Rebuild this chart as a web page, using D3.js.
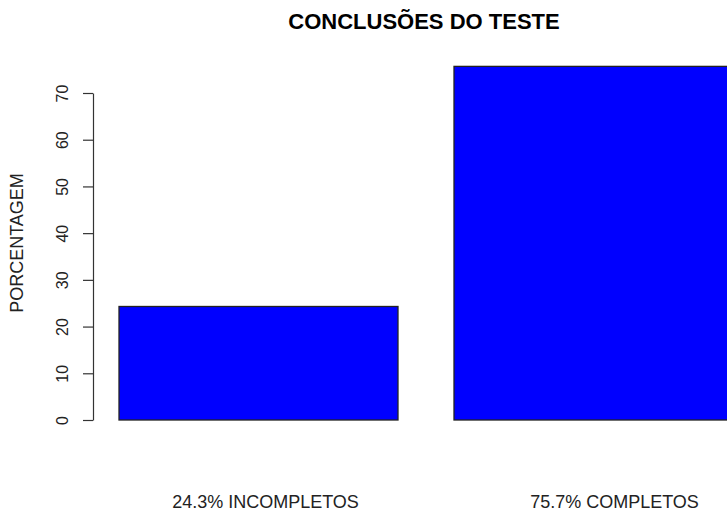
<!DOCTYPE html>
<html>
<head>
<meta charset="utf-8">
<script src="https://cdn.jsdelivr.net/npm/d3@7"></script>
<style>
	body { margin: 0; background: #fff; }
	text { font-family: 'Liberation Sans', Arial, sans-serif; }
</style>
</head>
<body>
<div id="chart"></div>
<script>
// data
const categories = ['INCOMPLETOS', 'COMPLETOS']
const values = [24.3, 75.7]
const barLabels = ['24.3% INCOMPLETOS', '75.7% COMPLETOS']
const yTicks = [0, 10, 20, 30, 40, 50, 60, 70]

var width = 727
var height = 511

var svg = d3.select('#chart')
	.append('svg')
	.attr('width', width)
	.attr('height', height)

// scales
var x = d3.scaleBand()
	.domain(categories)
	.range([119, 733])
	.paddingInner(56 / 335)
	.paddingOuter(0)

var y = d3.scaleLinear()
	.domain([0, 70])
	.range([420, 93])

// bars
svg.selectAll('rect.bar')
	.data(values)
	.enter()
	.append('rect')
	.attr('class', 'bar')
	.attr('x', (d, i) => x(categories[i]))
	.attr('y', d => y(d))
	.attr('width', x.bandwidth())
	.attr('height', d => y(0) - y(d))
	.attr('fill', '#0000ff')
	.attr('stroke', '#222')
	.attr('stroke-width', 1.3)

// y axis
var yAxis = svg.append('g')
	.attr('transform', 'translate(93,0)')
	.call(d3.axisLeft(y).tickValues(yTicks).tickSize(10).tickSizeOuter(0))
yAxis.select('.domain').attr('stroke', '#333').attr('stroke-width', 1.2)
yAxis.selectAll('.tick line').attr('stroke', '#333').attr('stroke-width', 1.2)
yAxis.selectAll('.tick text')
	.attr('transform', 'rotate(-90)')
	.attr('x', 0)
	.attr('y', -25)
	.attr('dy', 0)
	.attr('text-anchor', 'middle')
	.style('font-size', '16px')
	.style('font-family', "'Liberation Sans', Arial, sans-serif")
	.attr('fill', '#222')

// category labels under bars
const labelShift = [7, 21]
svg.selectAll('text.xlab')
	.data(barLabels)
	.enter()
	.append('text')
	.attr('class', 'xlab')
	.attr('x', (d, i) => x(categories[i]) + x.bandwidth() / 2 + labelShift[i])
	.attr('y', 508)
	.attr('text-anchor', 'middle')
	.style('font-size', '18px')
	.attr('fill', '#222')
	.text(d => d)

// y label
svg.append('text')
	.attr('transform', 'translate(23,243) rotate(-90)')
	.attr('text-anchor', 'middle')
	.style('font-size', '18px')
	.attr('fill', '#222')
	.text('PORCENTAGEM')

// title
svg.append('text')
	.attr('x', 424)
	.attr('y', 29)
	.attr('text-anchor', 'middle')
	.style('font-size', '22px')
	.style('font-weight', 'bold')
	.attr('fill', '#000')
	.text('CONCLUSÕES DO TESTE')
</script>
</body>
</html>
